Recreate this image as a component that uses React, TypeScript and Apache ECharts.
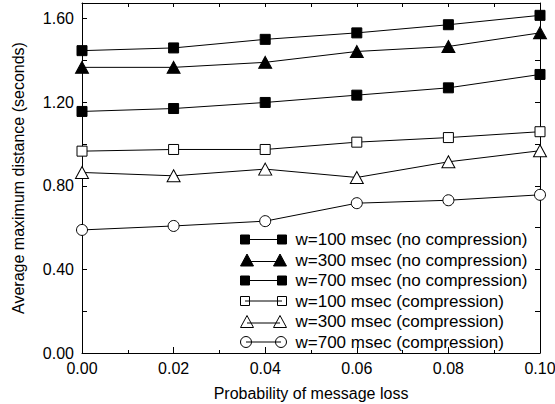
import React, { useEffect, useRef } from "react";
import * as echarts from "echarts";

const xValues = [0.0, 0.02, 0.04, 0.06, 0.08, 0.1];
const seriesNames = [
  "w=100 msec (no compression)",
  "w=300 msec (no compression)",
  "w=700 msec (no compression)",
  "w=100 msec (compression)",
  "w=300 msec (compression)",
  "w=700 msec (compression)",
];
const w100nc = [1.447, 1.46, 1.501, 1.532, 1.571, 1.616];
const w300nc = [1.367, 1.367, 1.391, 1.443, 1.467, 1.532];
const w700nc = [1.156, 1.17, 1.199, 1.234, 1.269, 1.333];
const w100c = [0.966, 0.974, 0.974, 1.009, 1.031, 1.059];
const w300c = [0.864, 0.848, 0.88, 0.84, 0.915, 0.968];
const w700c = [0.589, 0.608, 0.631, 0.717, 0.731, 0.757];
const xTicks = { min: 0, max: 0.1, interval: 0.02 };
const yTicks = { min: 0, max: 1.675, interval: 0.2, labelEvery: 0.4 };

const FONT = "Liberation Sans, Arial, sans-serif";

const sqIcon = "path://M0 1.5H9V10.5H0ZM4.5 6H41.5M37 1.5H46V10.5H37Z";
const triIcon = "path://M6.5 0L13 12L0 12ZM6.5 7.5H39.5M39.5 0L46 12L33 12Z";
const circIcon =
  "path://M0 6A5.5 5.5 0 1 0 11 6A5.5 5.5 0 1 0 0 6ZM5.5 6H40.5M35 6A5.5 5.5 0 1 0 46 6A5.5 5.5 0 1 0 35 6Z";

export default function App() {
  const ref = useRef<HTMLDivElement>(null);
  useEffect(() => {
    if (!ref.current) return;
    const chart = echarts.init(ref.current, undefined, { renderer: "svg" });
    const datas = [w100nc, w300nc, w700nc, w100c, w300c, w700c];
    const symbols = ["rect", "triangle", "rect", "rect", "triangle", "circle"];
    const sizes: any[] = [10, [13, 12], 10, 10, [13, 12], 11];
    const filled = [true, true, true, false, false, false];
    const icons = [sqIcon, triIcon, sqIcon, sqIcon, triIcon, circIcon];

    const series = datas.map((d, i) => ({
      name: seriesNames[i],
      type: "line",
      data: d.map((v, j) => [xValues[j], v]),
      symbol: symbols[i],
      symbolSize: sizes[i],
      showAllSymbol: true,
      lineStyle: { color: "#000", width: 1 },
      itemStyle: {
        color: filled[i] ? "#000" : "#fff",
        borderColor: "#000",
        borderWidth: 1,
      },
      emphasis: { disabled: true },
      z: 3,
    }));

    const axisCommon = {
      axisLine: { show: true, onZero: false, lineStyle: { color: "#000", width: 1 } },
      splitLine: { show: false },
    };

    chart.setOption({
      animation: false,
      grid: { left: 82, right: 15, top: 3, bottom: 51, outerBoundsMode: "none" },
      legend: {
        orient: "vertical",
        left: 240,
        top: 231,
        itemWidth: 46,
        itemHeight: 12,
        itemGap: 3.5,
        padding: 0,
        selectedMode: false,
        textStyle: {
          fontSize: 17,
          fontFamily: FONT,
          color: "#000",
          lineHeight: 17,
          padding: [0, 0, 0, 4],
        },
        data: seriesNames.map((n, i) => ({
          name: n,
          icon: icons[i],
          itemStyle: {
            color: filled[i] ? "#000" : "#fff",
            borderColor: "#000",
            borderWidth: 1,
          },
        })),
      },
      xAxis: [
        {
          type: "value",
          position: "bottom",
          ...xTicks,
          ...axisCommon,
          name: "Probability of message loss",
          nameLocation: "middle",
          nameGap: 32,
          nameTextStyle: { fontSize: 16, fontFamily: FONT, color: "#000" },
          axisTick: { inside: true, length: 6, lineStyle: { color: "#000" } },
          minorTick: { show: true, splitNumber: 2, length: 3, lineStyle: { color: "#000" } },
          axisLabel: {
            fontSize: 16,
            fontFamily: FONT,
            color: "#000",
            margin: 7,
            formatter: (v: number) => v.toFixed(2),
          },
        },
        {
          type: "value",
          position: "top",
          ...xTicks,
          ...axisCommon,
          axisTick: { inside: true, length: 4, lineStyle: { color: "#000" } },
          minorTick: { show: true, splitNumber: 2, length: 4, lineStyle: { color: "#000" } },
          axisLabel: { show: false },
        },
      ],
      yAxis: [
        {
          type: "value",
          position: "left",
          ...yTicks,
          ...axisCommon,
          name: "Average maximum distance (seconds)",
          nameLocation: "middle",
          nameGap: 56,
          nameTextStyle: { fontSize: 16, fontFamily: FONT, color: "#000" },
          axisTick: { inside: true, length: 5, lineStyle: { color: "#000" } },
          axisLabel: {
            fontSize: 16,
            fontFamily: FONT,
            color: "#000",
            margin: 8,
            showMaxLabel: false,
            formatter: (v: number) => {
              const k = Math.round(v * 100);
              return k % Math.round(yTicks.labelEvery * 100) === 0 ? v.toFixed(2) : "";
            },
          },
        },
        {
          type: "value",
          position: "right",
          ...yTicks,
          ...axisCommon,
          axisTick: { inside: true, length: 5, lineStyle: { color: "#000" } },
          axisLabel: { show: false },
        },
      ],
      series,
    });
    return () => chart.dispose();
  }, []);
  return (
    <div
      ref={ref}
      style={{ position: "fixed", left: 0, top: 0, width: 555, height: 404, background: "#fff" }}
    />
  );
}
